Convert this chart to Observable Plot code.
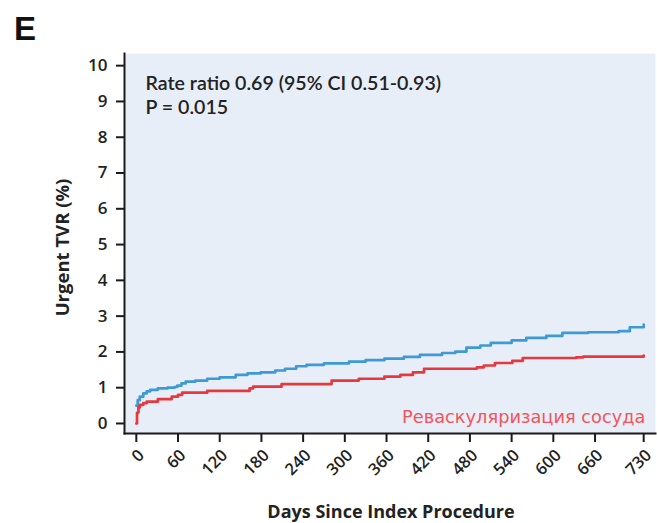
<!DOCTYPE html>
<html><head><meta charset="utf-8">
<script src="https://cdn.jsdelivr.net/npm/d3@7"></script>
<script src="https://cdn.jsdelivr.net/npm/@observablehq/plot@0.6"></script>
<style>
body{margin:0;background:#fff;}
#wrap{position:relative;width:657px;height:523px;}
#panel{position:absolute;left:14px;top:12px;font:bold 33px "Liberation Sans",Arial,sans-serif;color:#111;line-height:1;}
#chart{position:absolute;left:0;top:0;}
</style>
</head><body>
<div id="wrap"><div id="chart"></div><div id="panel">E</div></div>
<script>
const panelLabel = "E";
const statsText = ["Rate ratio 0.69 (95% CI 0.51-0.93)", "P = 0.015"];
const seriesLabel = "Реваскуляризация сосуда";
const xTitle = "Days Since Index Procedure";
const yTitle = "Urgent TVR (%)";
const xTicks = [0, 60, 120, 180, 240, 300, 360, 420, 480, 540, 600, 660, 730];
const yTicks = [0, 1, 2, 3, 4, 5, 6, 7, 8, 9, 10];

const blueDays = [0, 2, 5, 10, 15, 20, 31, 45, 55, 59, 65, 71, 85, 102, 120, 143, 160, 179, 200, 214, 230, 245, 270, 306, 330, 357, 385, 408, 440, 459, 475, 495, 510, 540, 561, 590, 613, 650, 694, 710, 730];
const blueRate = [0.5, 0.65, 0.75, 0.84, 0.9, 0.94, 0.98, 1.0, 1.02, 1.06, 1.12, 1.17, 1.2, 1.25, 1.29, 1.36, 1.4, 1.43, 1.48, 1.53, 1.6, 1.64, 1.68, 1.73, 1.77, 1.81, 1.86, 1.92, 1.97, 2.01, 2.12, 2.18, 2.25, 2.32, 2.39, 2.45, 2.53, 2.55, 2.58, 2.69, 2.76];

const redDays = [0, 1, 3, 5, 10, 15, 31, 51, 60, 66, 102, 163, 168, 209, 265, 281, 320, 357, 380, 398, 414, 490, 500, 516, 541, 556, 633, 643, 730];
const redRate = [0.0, 0.3, 0.45, 0.52, 0.57, 0.61, 0.68, 0.75, 0.8, 0.86, 0.91, 0.98, 1.03, 1.10, 1.10, 1.20, 1.25, 1.31, 1.36, 1.43, 1.53, 1.57, 1.62, 1.69, 1.75, 1.83, 1.85, 1.87, 1.90];

const blue = blueDays.map((d, i) => ({day: d, rate: blueRate[i]}));
const red = redDays.map((d, i) => ({day: d, rate: redRate[i]}));

const FONT = "'Open Sans', sans-serif";

const chart = Plot.plot({
  width: 657,
  height: 523,
  marginLeft: 124,
  marginRight: 2,
  marginTop: 53,
  marginBottom: 90,
  style: {fontFamily: FONT, background: "transparent", color: "#222"},
  x: {domain: [-17, 747]},
  y: {domain: [-0.28, 10.34]},
  marks: [
    Plot.frame({fill: "#e8eef7", stroke: null}),
    Plot.line(blue, {x: "day", y: "rate", stroke: "#3d9ad4", strokeWidth: 2.7, curve: "step-after"}),
    Plot.line(red, {x: "day", y: "rate", stroke: "#e8383f", strokeWidth: 2.7, curve: "step-after"}),
    Plot.frame({anchor: "left", stroke: "#1a1a1a", strokeWidth: 2}),
    Plot.frame({anchor: "bottom", stroke: "#1a1a1a", strokeWidth: 2}),
    Plot.axisY({ticks: yTicks, tickSize: 8, tickPadding: 9, strokeWidth: 2, stroke: "#1a1a1a", fontSize: 17, fontWeight: 600, fill: "#222", label: null, tickFormat: d => String(d)}),
    Plot.axisX({ticks: xTicks, tickSize: 9, strokeWidth: 2, stroke: "#1a1a1a", text: null, label: null}),
    Plot.axisX({ticks: xTicks, tickSize: 0, tickPadding: 19, dx: 5, tickRotate: -45, fontSize: 16.5, fontWeight: 600, fill: "#222", label: null, tickFormat: d => String(d)}),
    Plot.text([statsText[0]], {frameAnchor: "top-left", dx: 21, dy: 36, lineAnchor: "bottom", fontSize: 19.6, fontFamily: "Lato, sans-serif", fontWeight: 600, fill: "#222", textAnchor: "start"}),
    Plot.text([statsText[1]], {frameAnchor: "top-left", dx: 21, dy: 60, lineAnchor: "bottom", fontSize: 19.6, fontFamily: "Lato, sans-serif", fontWeight: 600, fill: "#222", textAnchor: "start"}),
    Plot.text([seriesLabel], {frameAnchor: "bottom-right", dx: -10, dy: -11, lineAnchor: "bottom", fontSize: 17.8, fontFamily: "'DejaVu Sans', sans-serif", fill: "#f2545c", textAnchor: "end"}),
    Plot.text([yTitle], {frameAnchor: "left", dx: -61, dy: 4, rotate: -90, textAnchor: "middle", fontSize: 18.5, fontWeight: 700, fill: "#222"}),
    Plot.text([xTitle], {frameAnchor: "bottom", dx: 1, dy: 84, fontSize: 18, fontWeight: 700, fill: "#222"})
  ]
});
document.getElementById("chart").append(chart);
document.getElementById("panel").textContent = panelLabel;
</script>
</body></html>
